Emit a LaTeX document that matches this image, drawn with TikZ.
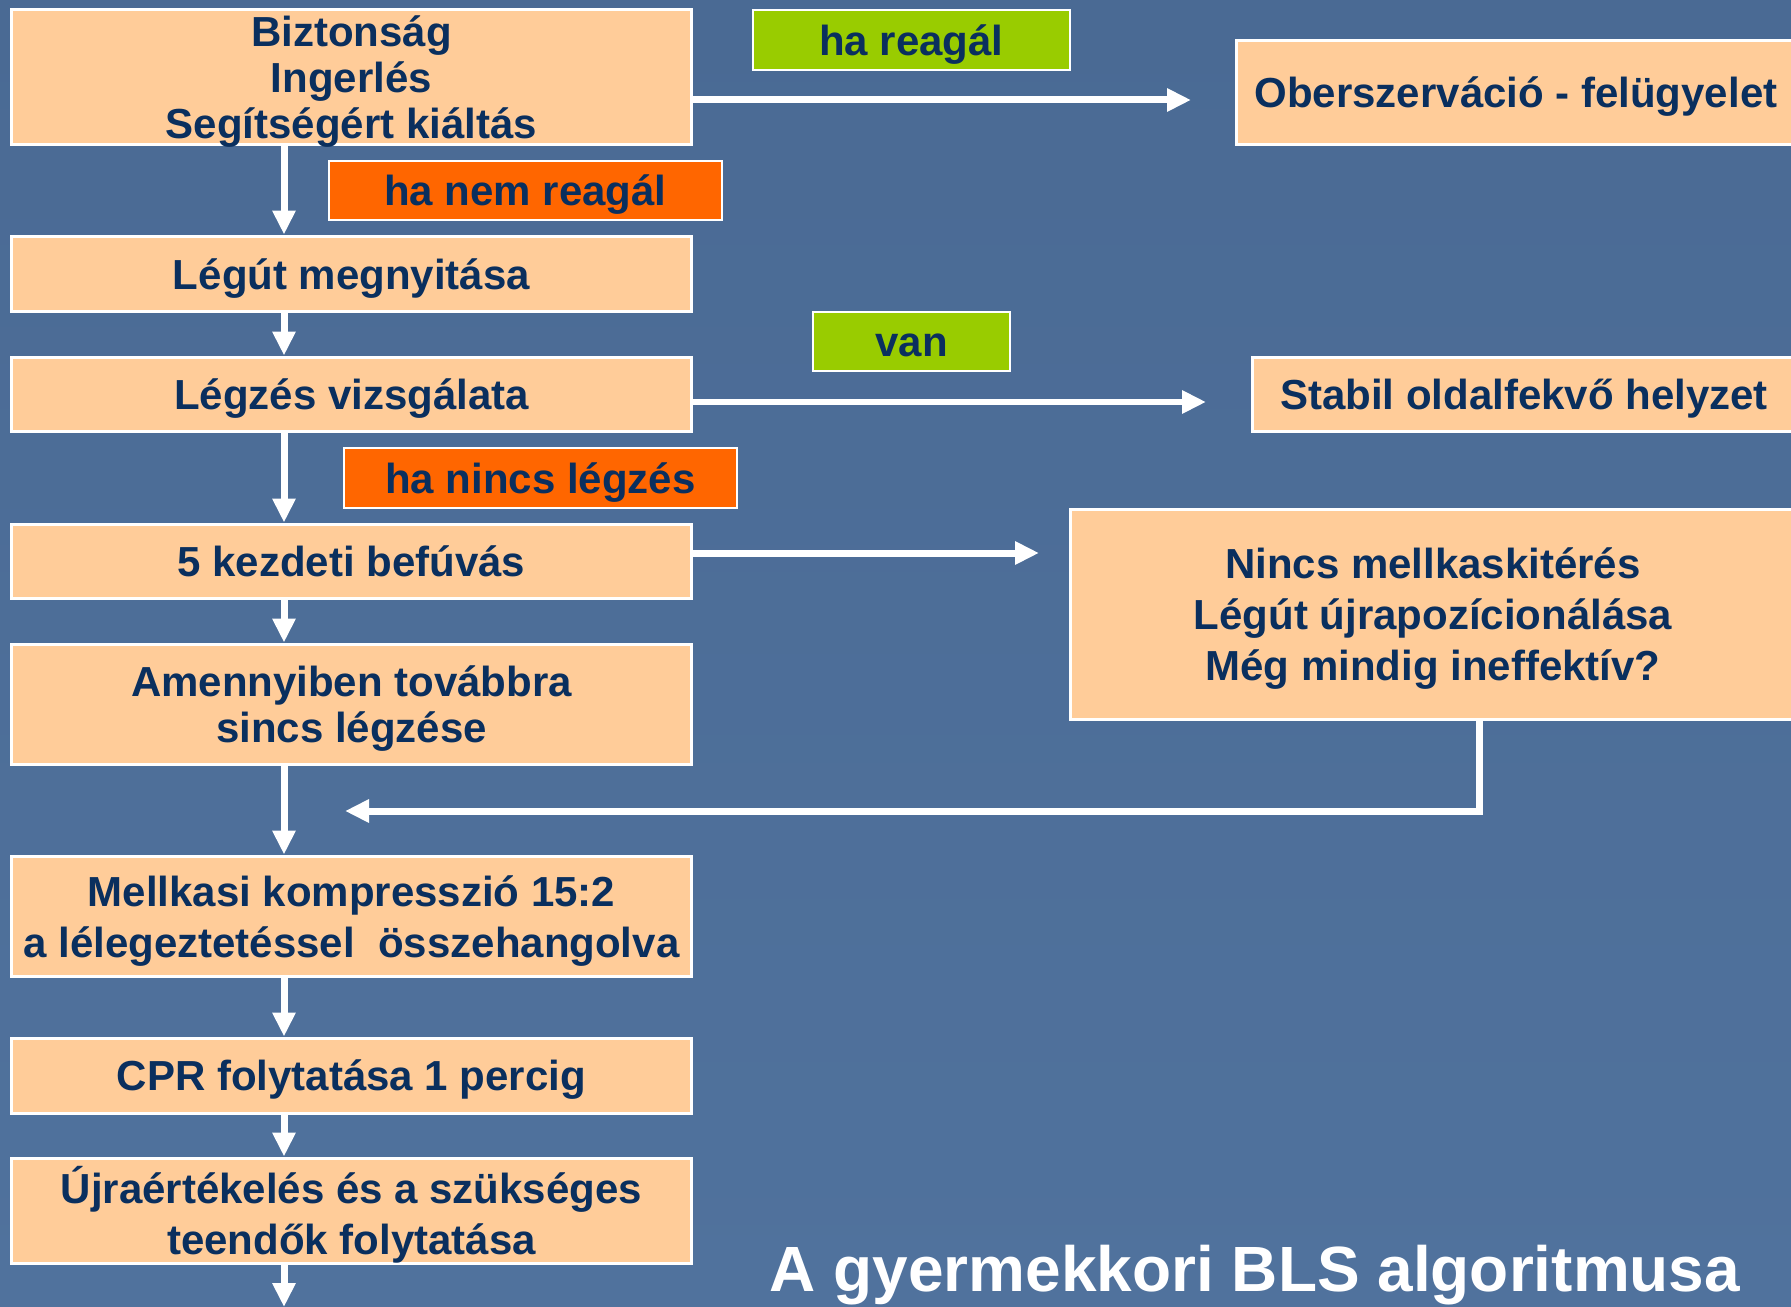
\documentclass[tikz,border=0pt]{standalone}
\usepackage{fontspec}
\setmainfont{Liberation Sans}
\usetikzlibrary{arrows.meta}
\definecolor{bgtop}{RGB}{74,106,148}
\definecolor{bgmid}{RGB}{88,123,167}
\definecolor{bgbot}{RGB}{80,114,157}
\definecolor{peach}{HTML}{FFCC99}
\definecolor{navy}{HTML}{0A2F5E}
\definecolor{lime}{HTML}{99CC00}
\definecolor{orng}{HTML}{FF6600}
\begin{document}
\begin{tikzpicture}[x=0.02cm,y=-0.02cm,font=\bfseries\fontsize{23.9}{26.2}\selectfont,
  stepbox/.style={draw=white,line width=0.06cm,fill=peach,text=navy,align=center,inner sep=0pt,text depth=0pt,minimum width=13.62cm},
  sidebox/.style={draw=white,line width=0.06cm,fill=peach,text=navy,align=center,inner sep=0pt,text depth=0pt},
  tag/.style={draw=white,line width=0.04cm,text=navy,inner sep=0pt,text height=17.4pt,text depth=0pt,minimum height=1.19cm},
  wide/.style={font=\bfseries\fontsize{23.9}{29}\selectfont},
  flow/.style={draw=white,line width=0.14cm,-{Triangle[width=0.44cm,length=0.48cm]}},
  title/.style={text=white,anchor=base,inner sep=0pt,font=\bfseries\fontsize{36.4}{40}\selectfont}]
\clip (0,0) rectangle (1791,1307);
\shade[top color=bgtop,middle color=bgmid,bottom color=bgbot] (0,0) rectangle (1791,1307);
% left column
\node[stepbox,minimum height=2.72cm] (b1) at (351.5,77) {Biztonság\\Ingerlés\\Segítségért kiáltás};
\node[stepbox,minimum height=1.52cm] (legut) at (351.5,274) {Légút megnyitása};
\node[stepbox,minimum height=1.5cm] (legzes) at (351.5,394.5) {Légzés vizsgálata};
\node[stepbox,minimum height=1.5cm] (befuvas) at (351.5,561.5) {5 kezdeti befúvás};
\node[stepbox,minimum height=2.42cm] (amenny) at (351.5,704.5) {Amennyiben továbbra\\sincs légzése};
\node[stepbox,wide,minimum height=2.42cm] (mellkas) at (351.5,916.5) {Mellkasi kompresszió 15:2\\a lélegeztetéssel\ \ összehangolva};
\node[stepbox,minimum height=1.5cm] (cpr) at (351.5,1075.5) {CPR folytatása 1 percig};
\node[stepbox,wide,minimum height=2.1cm] (ujra) at (351.5,1210.5) {Újraértékelés és a szükséges\\teendők folytatása};
% right column
\node[sidebox,minimum width=11.2cm,minimum height=2.1cm] (obs) at (1516,92.5) {Oberszerváció - felügyelet};
\node[sidebox,minimum width=10.88cm,minimum height=1.5cm] (stabil) at (1524,394.5) {Stabil oldalfekvő helyzet};
\node[sidebox,wide,minimum width=14.52cm,minimum height=4.22cm] (nincs) at (1433,614.5) {Nincs mellkaskitérés\\Légút újrapozícionálása\\Még mindig ineffektív?};
% conditions
\node[tag,fill=lime,minimum width=6.34cm] (hareagal) at (911.5,40) {ha reagál};
\node[tag,fill=orng,minimum width=7.86cm] (hanem) at (525.5,190.5) {ha nem reagál};
\node[tag,fill=lime,minimum width=3.94cm] (van) at (911.5,341.5) {van};
\node[tag,fill=orng,minimum width=7.86cm] (hanincs) at (540.5,478) {ha nincs légzés};
\node[title] (ttl) at (1255,1291) {A gyermekkori BLS algoritmusa};
% arrows
\coordinate (ax) at (284,0);
\coordinate (bottom) at (284,1307);
\draw[flow] (b1.south -| ax) -- (legut.north -| ax);
\draw[flow] (legut.south -| ax) -- (legzes.north -| ax);
\draw[flow] (legzes.south -| ax) -- (befuvas.north -| ax);
\draw[flow] (befuvas.south -| ax) -- (amenny.north -| ax);
\draw[flow] (amenny.south -| ax) -- (mellkas.north -| ax);
\draw[flow] (mellkas.south -| ax) -- (cpr.north -| ax);
\draw[flow] (cpr.south -| ax) -- (ujra.north -| ax);
\draw[flow] (ujra.south -| ax) -- (bottom);
\coordinate (obsin) at (1191,100);
\coordinate (stabin) at (1206,402);
\coordinate (nincsin) at (1039,553);
\draw[flow] (b1.east |- obsin) -- (obsin);
\draw[flow] (legzes.east |- stabin) -- (stabin);
\draw[flow] (befuvas.east |- nincsin) -- (nincsin);
\coordinate (fb) at (1479,811);
\coordinate (back) at (345,811);
\draw[flow] (nincs.south -| fb) |- (back);
\end{tikzpicture}
\end{document}
